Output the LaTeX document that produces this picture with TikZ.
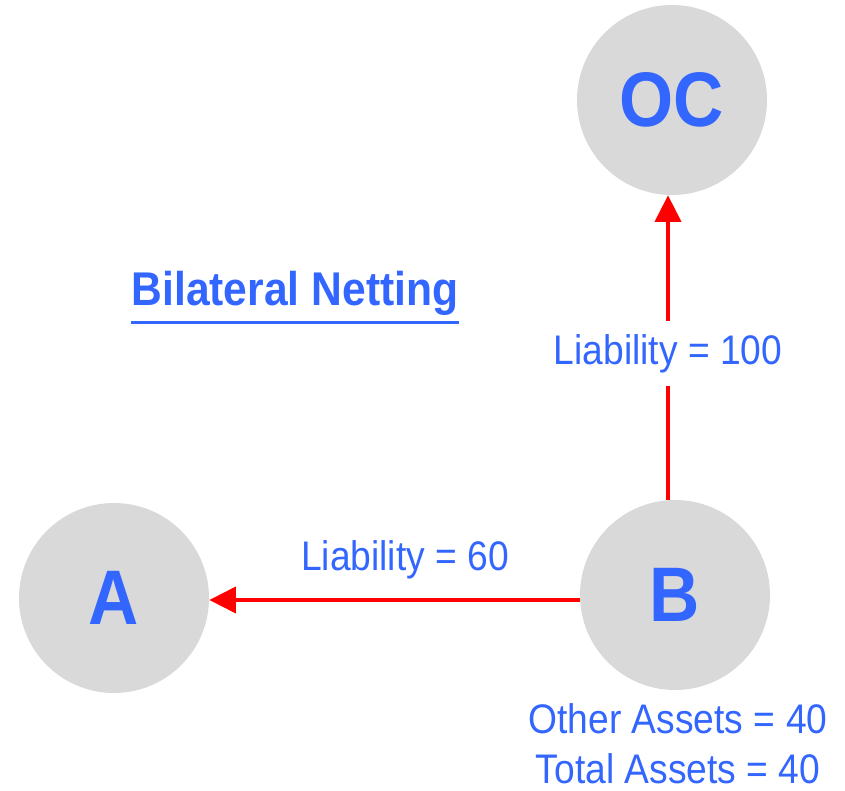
\documentclass[tikz,border=0pt]{standalone}
\usepackage{fontspec}
\setmainfont{Liberation Sans}[FakeStretch=0.9]
\usetikzlibrary{arrows.meta}
\definecolor{txtblue}{HTML}{3366FF}
\definecolor{circgray}{HTML}{D9D9D9}
\definecolor{arrred}{HTML}{FF0000}
\tikzset{
  party/.style={circle, fill=circgray, draw=none, minimum size=190*0.75pt, inner sep=0pt,
    text=txtblue, font=\fontsize{58}{58}\selectfont\bfseries},
  flow/.style={draw=arrred, line width=3pt, -{Triangle[length=20pt,width=19.5pt]}},
  lbl/.style={text=txtblue, font=\fontsize{31}{36}\selectfont, inner sep=1pt},
}
\begin{document}
\begin{tikzpicture}[x=0.75pt,y=-0.75pt]
\useasboundingbox (0,0) rectangle (845,791);
\node[party] (OC) at (672,100) {OC};
\node[party] (A) at (114,598) {A};
\node[party] (B) at (675,595) {B};
\coordinate (vx) at (668,0);
\coordinate (hy) at (0,600);
\node[text=txtblue, font=\fontsize{35.5}{38}\selectfont\bfseries, inner sep=0pt] (title) at (295,293) {Bilateral Netting};
\draw[txtblue, line width=2.2pt] ([yshift=-5pt]title.south west) -- ([yshift=-5pt]title.south east);
\draw[flow] (B.north -| vx) -- node[pos=0.48, lbl, fill=white, inner xsep=6pt, inner ysep=10pt] (l100) {Liability = 100} (OC.south -| vx);
\draw[flow] (B.west |- hy) -- (A.east |- hy);
\node[lbl] (l60) at (405,560) {Liability = 60};
\node[lbl] (oa) at (678,719) {Other Assets = 40};
\node[lbl] (ta) at (678,769) {Total Assets = 40};
\end{tikzpicture}
\end{document}
